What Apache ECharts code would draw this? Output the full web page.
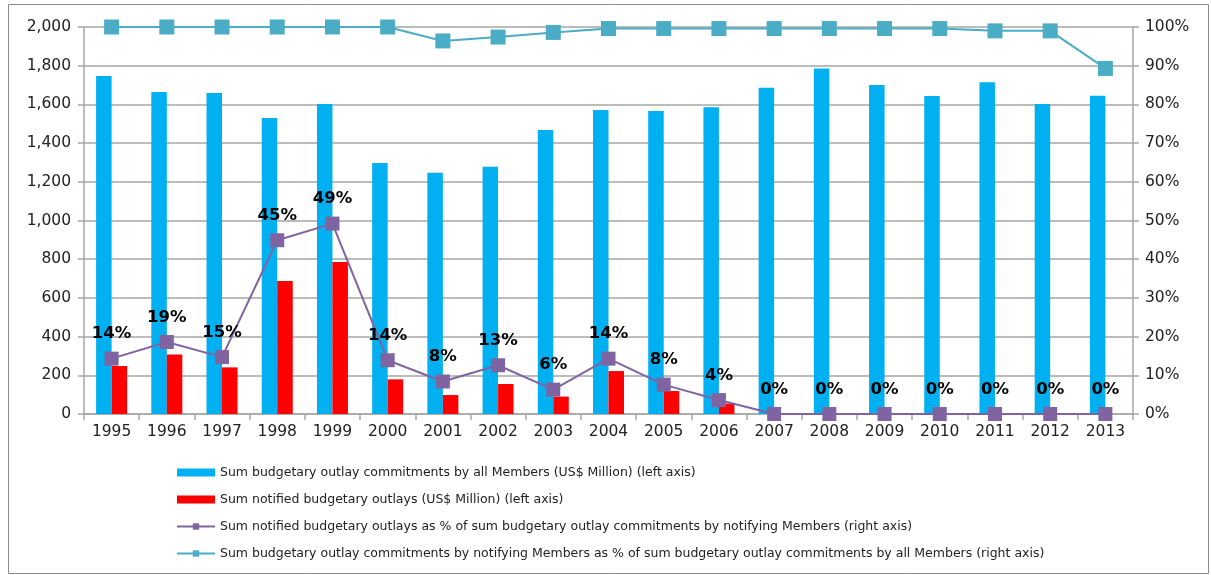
<!DOCTYPE html>
<html>
<head>
<meta charset="utf-8">
<script src="https://cdn.jsdelivr.net/npm/echarts@6/dist/echarts.min.js"></script>
<style>
  html, body { margin: 0; padding: 0; background: #fff; }
  #chart { width: 1211px; height: 575px; }
</style>
</head>
<body>
<div id="chart"></div>
<script>
const years = ['1995', '1996', '1997', '1998', '1999', '2000', '2001', '2002', '2003', '2004',
  '2005', '2006', '2007', '2008', '2009', '2010', '2011', '2012', '2013'];

// US$ Million (left axis)
const commitmentsAll = [1747, 1664, 1659, 1530, 1602, 1297, 1247, 1278, 1468, 1571,
  1566, 1585, 1686, 1786, 1700, 1643, 1714, 1602, 1645];
const notifiedOutlays = [248, 308, 241, 687, 786, 179, 98, 155, 90, 222,
  119, 54, 0, 0, 0, 0, 0, 0, 0];

// percentages (right axis)
const notifiedPct = [14.3, 18.6, 14.7, 44.9, 49.2, 13.9, 8.4, 12.6, 6.3, 14.3,
  7.6, 3.6, 0, 0, 0, 0, 0, 0, 0];
const notifyingPct = [100, 100, 100, 100, 100, 100, 96.4, 97.4, 98.6, 99.6,
  99.6, 99.6, 99.6, 99.6, 99.6, 99.6, 99.0, 99.0, 89.3];

const seriesNames = [
  'Sum budgetary outlay commitments by all Members (US$ Million) (left axis)',
  'Sum notified budgetary outlays (US$ Million) (left axis)',
  'Sum notified budgetary outlays as % of sum budgetary outlay commitments by notifying Members (right axis)',
  'Sum budgetary outlay commitments by notifying Members as % of sum budgetary outlay commitments by all Members (right axis)'
];

const chart = echarts.init(document.getElementById('chart'));
const font = 'DejaVu Sans, Verdana, sans-serif';
const gridColor = '#a6a6a6';

const option = {
  animation: false,
  textStyle: { fontFamily: font },
  graphic: [{
    type: 'rect',
    shape: { x: 8.5, y: 4.5, width: 1200, height: 569 },
    style: { fill: 'none', stroke: '#8c8c8c', lineWidth: 1 },
    silent: true
  }],
  grid: { left: 84, right: 78, top: 27, bottom: 161 },
  legend: {
    orient: 'vertical',
    left: 171,
    top: 461,
    itemWidth: 38,
    itemHeight: 8,
    itemGap: 14,
    textStyle: { fontFamily: font, fontSize: 12.5, color: '#222' },
    data: [
      { name: seriesNames[0], icon: 'rect' },
      { name: seriesNames[1], icon: 'rect' },
      { name: seriesNames[2] },
      { name: seriesNames[3] }
    ]
  },
  xAxis: {
    type: 'category',
    data: years,
    axisLine: { lineStyle: { color: gridColor, width: 1.5 } },
    axisTick: { show: true, length: 6, lineStyle: { color: gridColor, width: 1.5 } },
    axisLabel: { color: '#222', fontSize: 15.5, margin: 10 }
  },
  yAxis: [{
    type: 'value',
    min: 0, max: 2000, interval: 200,
    axisLine: { show: true, lineStyle: { color: gridColor, width: 1.5 } },
    axisTick: { show: true, length: 6, lineStyle: { color: gridColor, width: 1.5 } },
    splitLine: { lineStyle: { color: gridColor, width: 1.5 } },
    axisLabel: {
      color: '#222', fontSize: 15.5, margin: 13,
      formatter: v => v.toLocaleString('en-US')
    }
  }, {
    type: 'value',
    min: 0, max: 100, interval: 10,
    axisLine: { show: true, lineStyle: { color: gridColor, width: 1.5 } },
    axisTick: { show: true, length: 6, lineStyle: { color: gridColor, width: 1.5 } },
    splitLine: { show: false },
    axisLabel: { color: '#222', fontSize: 15.5, margin: 12, formatter: '{value}%' }
  }],
  series: [{
    name: seriesNames[0],
    type: 'bar',
    data: commitmentsAll,
    barWidth: 15.5,
    barGap: '0%',
    itemStyle: { color: '#00b0f0' }
  }, {
    name: seriesNames[1],
    type: 'bar',
    data: notifiedOutlays,
    barWidth: 15.5,
    barGap: '0%',
    itemStyle: { color: '#ff0000' }
  }, {
    name: seriesNames[2],
    type: 'line',
    yAxisIndex: 1,
    data: notifiedPct,
    symbol: 'rect',
    symbolSize: 14,
    lineStyle: { color: '#8064a2', width: 2 },
    itemStyle: { color: '#8064a2' },
    label: {
      show: true,
      position: 'top',
      distance: 9,
      fontSize: 16.5,
      fontWeight: 'bold',
      color: '#000',
      formatter: p => Math.round(p.value) + '%'
    },
    z: 4
  }, {
    name: seriesNames[3],
    type: 'line',
    yAxisIndex: 1,
    data: notifyingPct,
    symbol: 'rect',
    symbolSize: 15,
    lineStyle: { color: '#4bacc6', width: 2 },
    itemStyle: { color: '#4bacc6' },
    z: 3
  }]
};

chart.setOption(option);
</script>
</body>
</html>
